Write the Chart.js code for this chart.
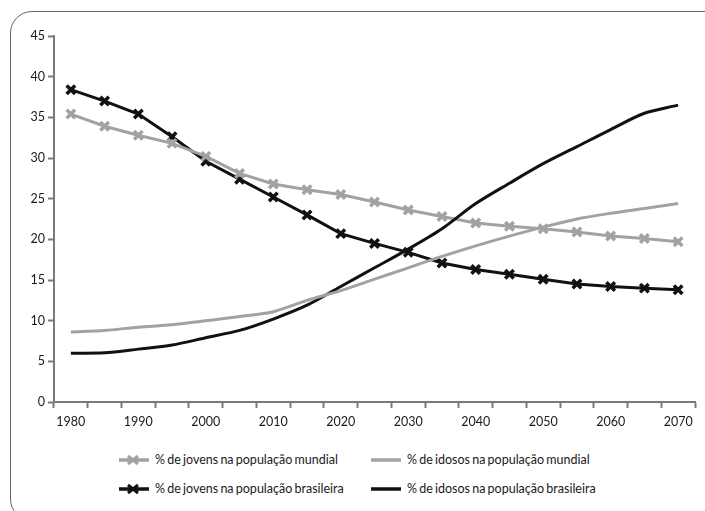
<!DOCTYPE html>
<html>
<head>
<meta charset="utf-8">
<script src="https://cdn.jsdelivr.net/npm/chart.js@4/dist/chart.umd.min.js"></script>
<style>
    body{margin:0; background:#fff; width:705px; height:511px; overflow:hidden; position:relative; font-family:Lato, "Open Sans", sans-serif;}
    .frame{position:absolute; left:10px; top:11px; width:720px; height:510px; border:1.5px solid #666; border-radius:22px; box-sizing:border-box;}
    .chart-box{position:absolute; left:0; top:0; width:705px; height:440px;}
    .legend{position:absolute; left:0; top:449px; width:705px; font-size:12.5px; color:#1a1a1a;}
    .legend .item{position:absolute; height:22px; line-height:22px; white-space:nowrap; word-spacing:-1px;}
    .legend svg{position:absolute; left:0; top:4px;}
    .legend span{position:absolute; left:37px; top:0;}
</style>
</head>
<body>
<div class="frame"></div>
<div class="chart-box"><canvas id="myChart"></canvas></div>
<div class="legend" id="legend"></div>

<script>
    // anos (categorias) de 5 em 5
    var anos = ['1980','1985','1990','1995','2000','2005','2010','2015','2020','2025','2030','2035','2040','2045','2050','2055','2060','2065','2070'];

    var jovensMundo = [35.4, 33.9, 32.8, 31.8, 30.2, 28.1, 26.8, 26.1, 25.5, 24.6, 23.6, 22.8, 22.0, 21.6, 21.3, 20.9, 20.4, 20.1, 19.7];
    var idososMundo = [8.6, 8.8, 9.2, 9.5, 10.0, 10.5, 11.1, 12.5, 13.7, 15.1, 16.5, 17.9, 19.2, 20.4, 21.5, 22.5, 23.2, 23.8, 24.4];
    var jovensBrasil = [38.4, 37.0, 35.4, 32.6, 29.6, 27.4, 25.2, 23.0, 20.7, 19.5, 18.4, 17.1, 16.3, 15.7, 15.1, 14.5, 14.2, 14.0, 13.8];
    var idososBrasil = [6.0, 6.05, 6.5, 7.0, 7.9, 8.8, 10.2, 11.9, 14.2, 16.5, 18.8, 21.3, 24.4, 26.9, 29.3, 31.4, 33.5, 35.5, 36.5];

    var yTicks = [0, 5, 10, 15, 20, 25, 30, 35, 40, 45];

    var nomes = [
        '% de jovens na população mundial',
        '% de idosos na população mundial',
        '% de jovens na população brasileira',
        '% de idosos na população brasileira'
    ];

    var cinza = '#a2a2a2';
    var preto = '#111111';
    var eixo = '#7a7a7a';

    function serie(label, data, cor, marcador, tension){
        return {
            label: label,
            data: data,
            borderColor: cor,
            backgroundColor: cor,
            borderWidth: 3,
            tension: tension,
            pointStyle: marcador ? 'crossRot' : false,
            pointRadius: marcador ? 6 : 0,
            pointBorderWidth: 3.5,
            pointBorderColor: cor
        };
    }

    var datasets = [
        serie(nomes[1], idososMundo, cinza, false, 0.3),
        serie(nomes[3], idososBrasil, preto, false, 0.3),
        serie(nomes[0], jovensMundo, cinza, true, 0),
        serie(nomes[2], jovensBrasil, preto, true, 0)
    ];

    var fonte = {family: 'Lato, "Open Sans", sans-serif', size: 12.5};

    new Chart(document.getElementById('myChart'), {
        type: 'line',
        data: {labels: anos, datasets: datasets},
        options: {
            responsive: true,
            maintainAspectRatio: false,
            animation: false,
            layout: {padding: {top: 36, right: 10, left: 0, bottom: 0}},
            plugins: {legend: {display: false}, tooltip: {enabled: false}},
            scales: {
                x: {
                    type: 'category',
                    offset: true,
                    grid: {offset: true, drawOnChartArea: false, tickLength: 6, tickWidth: 2, color: eixo},
                    border: {color: eixo, width: 2},
                    ticks: {
                        autoSkip: false, maxRotation: 0, padding: 6, color: '#1a1a1a', font: fonte,
                        callback: function(v, i){ return i % 2 === 0 ? anos[i] : ''; }
                    },
                    afterFit: function(s){ s.height = 38; }
                },
                y: {
                    min: 0, max: 45,
                    afterBuildTicks: function(s){ s.ticks = yTicks.map(function(v){ return {value: v}; }); },
                    grid: {drawOnChartArea: false, tickLength: 6, tickWidth: 2, color: eixo},
                    border: {color: eixo, width: 2},
                    ticks: {padding: 3, color: '#1a1a1a', font: fonte},
                    afterFit: function(s){ s.width = 54; }
                }
            }
        }
    });

    // legenda em html, 2 colunas
    var pos = [[118, 0], [370, 0], [118, 29], [370, 29]];
    var cores = [cinza, cinza, preto, preto];
    var comX = [true, false, true, false];
    var html = '';
    for (var i = 0; i < nomes.length; i++) {
        var x = comX[i] ? '<path d="M10 3 L20 11 M20 3 L10 11" stroke="' + cores[i] + '" stroke-width="3"/>' : '';
        html += '<div class="item" style="left:' + pos[i][0] + 'px; top:' + pos[i][1] + 'px">' +
            '<svg width="32" height="14"><line x1="1" y1="7" x2="31" y2="7" stroke="' + cores[i] + '" stroke-width="3.5"/>' + x + '</svg>' +
            '<span>' + nomes[i] + '</span></div>';
    }
    document.getElementById('legend').innerHTML = html;
</script>
</body>
</html>
